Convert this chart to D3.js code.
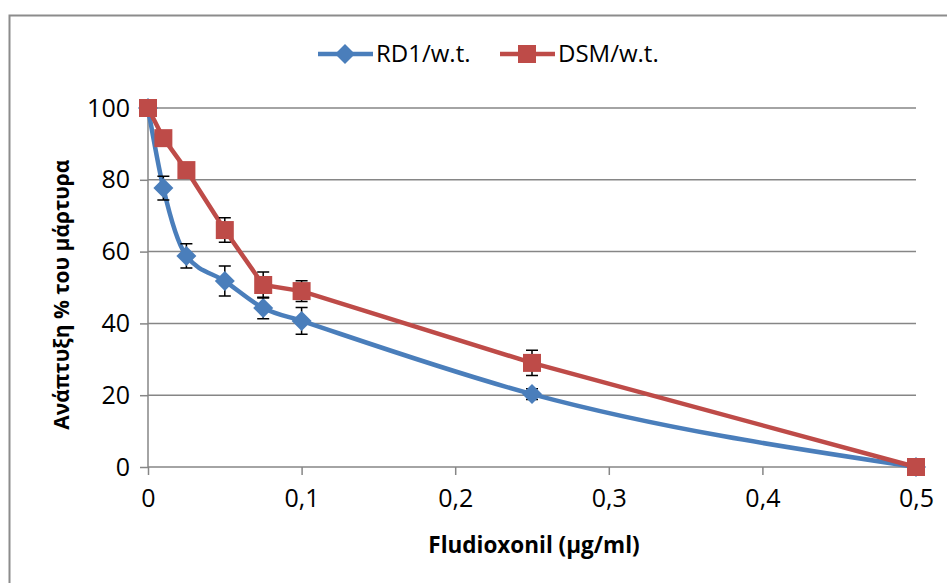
<!DOCTYPE html>
<html>
<head>
<meta charset="UTF-8">
<title>Fludioxonil</title>
<script src="https://cdn.jsdelivr.net/npm/d3@7"></script>
<style>
    body { margin: 0; background: #fff; }
    text { font-family: "Open Sans", "Liberation Sans", sans-serif; fill: #000; }
</style>
</head>
<body>
<script>
    // data
    var doses = [0, 0.01, 0.025, 0.05, 0.075, 0.1, 0.25, 0.5];
    var rd1 = [100, 77.7, 58.8, 51.8, 44.3, 40.7, 20.3, 0];
    var rd1Err = [0, 3.3, 3.4, 4.2, 3.0, 3.7, 1.5, 0];
    var dsm = [100, 91.6, 82.7, 66, 50.7, 49, 29, 0];
    var dsmErr = [0, 2, 2, 3.4, 3.6, 2.9, 3.5, 0];
    var xTicks = [0, 0.1, 0.2, 0.3, 0.4, 0.5];
    var yTicks = [0, 20, 40, 60, 80, 100];

    var W = 947, H = 583;
    var margin = {top: 108, right: 31, bottom: 116, left: 148};

    var svg = d3.select("body").append("svg")
        .attr("width", W)
        .attr("height", H);

    // chart frame
    svg.append("rect")
        .attr("x", 9.5).attr("y", 15.5)
        .attr("width", W + 20).attr("height", H + 20)
        .attr("fill", "none")
        .attr("stroke", "#8c8c8c")
        .attr("stroke-width", 2);

    var x = d3.scaleLinear().domain([0, 0.5]).range([margin.left, W - margin.right]);
    var y = d3.scaleLinear().domain([0, 100]).range([H - margin.bottom, margin.top]);

    // gridlines
    svg.append("g")
        .selectAll("line")
        .data(yTicks.filter(function (d) { return d > 0; }))
        .enter().append("line")
        .attr("x1", x(0)).attr("x2", x(0.5))
        .attr("y1", function (d) { return y(d); })
        .attr("y2", function (d) { return y(d); })
        .attr("stroke", "#868686")
        .attr("stroke-width", 1.5);

    var fmt = function (d) { return String(d).replace(".", ","); };

    // axes
    var xAxis = svg.append("g")
        .attr("transform", "translate(0," + y(0) + ")")
        .call(d3.axisBottom(x).tickValues(xTicks).tickFormat(fmt).tickSize(8).tickPadding(14));
    var yAxis = svg.append("g")
        .attr("transform", "translate(" + x(0) + ",0)")
        .call(d3.axisLeft(y).tickValues(yTicks).tickSize(8).tickPadding(10));
    [xAxis, yAxis].forEach(function (a) {
        a.attr("font-size", null).attr("font-family", null);
        a.selectAll("path, line").attr("stroke", "#868686").attr("stroke-width", 1.5);
        a.select(".domain").attr("d", a === xAxis ? "M" + x(0) + ",0H" + x(0.5) : "M0," + y(0) + "V" + y(100));
        a.selectAll("text").style("font-size", "25px").attr("fill", "#000");
    });

    // axis titles
    svg.append("text")
        .attr("x", (x(0) + x(0.5)) / 2 + 2)
        .attr("y", 553)
        .attr("text-anchor", "middle")
        .style("font-size", "22.5px")
        .style("font-weight", "bold")
        .text("Fludioxonil (μg/ml)");
    svg.append("text")
        .attr("transform", "translate(69," + y(48) + ") rotate(-90)")
        .attr("text-anchor", "middle")
        .style("font-size", "21px")
        .style("font-weight", "bold")
        .text("Ανάπτυξη % του μάρτυρα");

    var series = [
        {name: "RD1/w.t.", vals: rd1, err: rd1Err, color: "#4a7ebb", shape: "diamond", curve: d3.curveMonotoneX},
        {name: "DSM/w.t.", vals: dsm, err: dsmErr, color: "#be4b48", shape: "square", curve: d3.curveLinear}
    ];

    var marker = function (g, s, cx, cy) {
        if (s.shape === "square") {
            g.append("rect")
                .attr("x", cx - 9).attr("y", cy - 9)
                .attr("width", 18).attr("height", 18)
                .attr("fill", s.color);
        } else {
            g.append("path")
                .attr("d", "M" + cx + "," + (cy - 10) + "L" + (cx + 10) + "," + cy + "L" + cx + "," + (cy + 10) + "L" + (cx - 10) + "," + cy + "Z")
                .attr("fill", s.color);
        }
    };

    series.forEach(function (s) {
        var pts = doses.map(function (d, i) { return [d, s.vals[i], s.err[i]]; });
        var g = svg.append("g");

        var line = d3.line()
            .x(function (d) { return x(d[0]); })
            .y(function (d) { return y(d[1]); })
            .curve(s.curve);
        g.append("path")
            .datum(pts)
            .attr("d", line)
            .attr("fill", "none")
            .attr("stroke", s.color)
            .attr("stroke-width", 4.5);

        // error bars
        pts.filter(function (d) { return d[2] > 0; }).forEach(function (d) {
            var cx = x(d[0]), t = y(d[1] + d[2]), b = y(d[1] - d[2]);
            g.append("path")
                .attr("d", "M" + cx + "," + t + "V" + b + "M" + (cx - 6) + "," + t + "H" + (cx + 6) + "M" + (cx - 6) + "," + b + "H" + (cx + 6))
                .attr("stroke", "#000")
                .attr("stroke-width", 1.5)
                .attr("fill", "none");
        });

        pts.forEach(function (d) { marker(g, s, x(d[0]), y(d[1])); });
    });

    // legend
    var legX = [318, 500];
    series.forEach(function (s, i) {
        var g = svg.append("g");
        g.append("line")
            .attr("x1", legX[i]).attr("x2", legX[i] + 55)
            .attr("y1", 54).attr("y2", 54)
            .attr("stroke", s.color)
            .attr("stroke-width", 4.5);
        marker(g, s, legX[i] + 27, 54);
        g.append("text")
            .attr("x", legX[i] + 58)
            .attr("y", 62)
            .style("font-size", "24px")
            .text(s.name);
    });
</script>
</body>
</html>
